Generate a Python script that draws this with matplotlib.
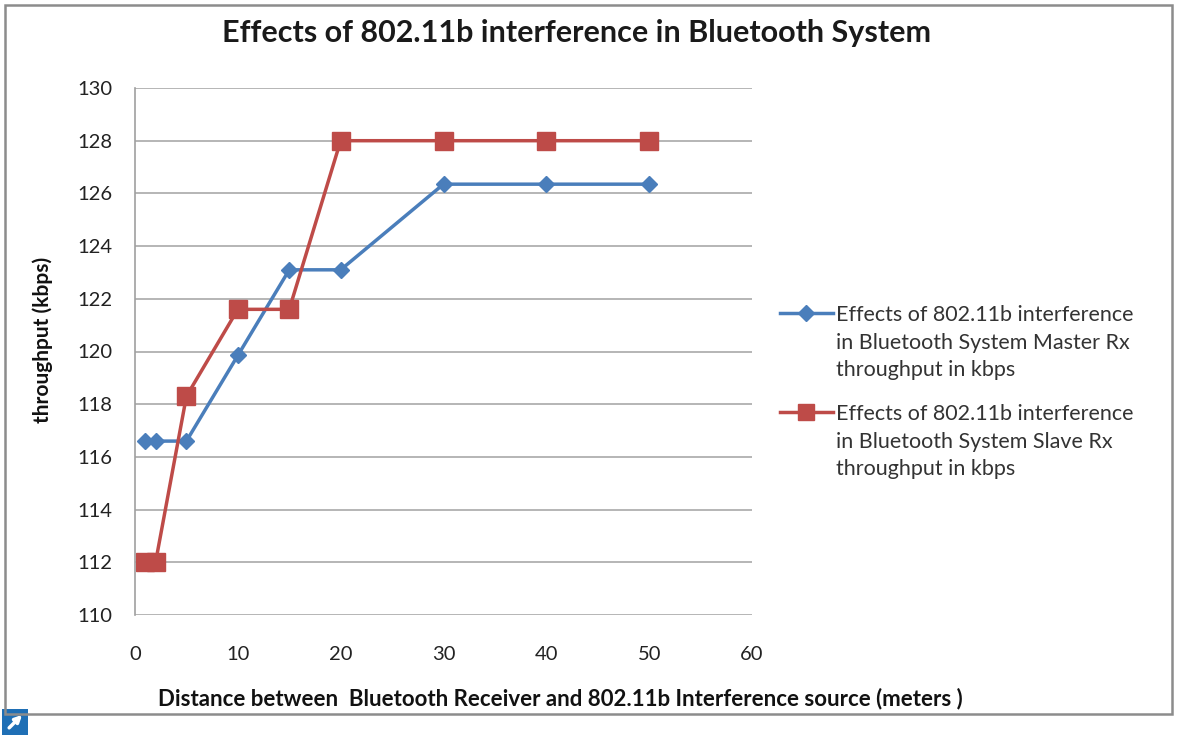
import matplotlib
matplotlib.use("Agg")
import matplotlib.pyplot as plt
from matplotlib.lines import Line2D
from matplotlib.patches import Rectangle

plt.rcParams["font.family"] = ["Lato", "DejaVu Sans"]

distance = [1, 2, 5, 10, 15, 20, 30, 40, 50]
master_rx = [116.6, 116.6, 116.6, 119.85, 123.1, 123.1, 126.35, 126.35, 126.35]
slave_rx = [112.0, 112.0, 118.3, 121.6, 121.6, 128.0, 128.0, 128.0, 128.0]

master_label = "Effects of 802.11b interference\nin Bluetooth System Master Rx\nthroughput in kbps"
slave_label = "Effects of 802.11b interference\nin Bluetooth System Slave Rx\nthroughput in kbps"
x_ticks = [0, 10, 20, 30, 40, 50, 60]
y_ticks = [110, 112, 114, 116, 118, 120, 122, 124, 126, 128, 130]

blue = "#4a7ebb"
red = "#be4b48"
W, H = 1177, 735


def fx(px):
    return px / W


def fy(py):
    return 1 - py / H


fig = plt.figure(figsize=(11.77, 7.35), dpi=100)
fig.patch.set_facecolor("white")

# outer chart border
fig.patches.append(Rectangle((fx(5), fy(714)), 1167 / W, 709 / H,
                             transform=fig.transFigure, fill=False,
                             edgecolor="#8c8c8c", linewidth=1.8))

ax = fig.add_axes([fx(135), fy(615), 617 / W, 527 / H])
ax.plot(distance, master_rx, color=blue, linewidth=2.5, marker="D",
        markersize=8, markerfacecolor=blue, markeredgecolor=blue)
ax.plot(distance, slave_rx, color=red, linewidth=2.5, marker="s",
        markersize=13, markerfacecolor=red, markeredgecolor=red)

ax.set_xlim(0, 60)
ax.set_ylim(110, 130)
ax.set_xticks(x_ticks)
ax.set_yticks(y_ticks)
ax.tick_params(axis="y", length=0, labelsize=14.5, colors="#222222", pad=16)
ax.tick_params(axis="x", length=0, labelsize=14.5, colors="#222222", pad=22)
ax.yaxis.grid(True, color="#b5b5b5", linewidth=1.4)
ax.set_axisbelow(True)
for side in ["top", "right", "bottom"]:
    ax.spines[side].set_visible(False)
ax.spines["left"].set_color("#a0a0a0")
ax.spines["left"].set_linewidth(1.2)

# axis titles sit where the original chart put them, not centred on the axes
fig.text(fx(43), fy(340), "throughput (kbps)", rotation=90, ha="center", va="center",
         fontsize=15, fontweight="bold", color="#111111")
fig.text(fx(560), fy(699), "Distance between  Bluetooth Receiver and 802.11b Interference source (meters )",
         ha="center", va="center", fontsize=16, fontweight="bold", color="#111111")

fig.text(fx(577), fy(33), "Effects of 802.11b interference in Bluetooth System",
         ha="center", va="center", fontsize=22, fontweight="bold", color="#1a1a1a")

# legend drawn by hand so the key sits on the first text line
legend_rows = [
    (master_label, blue, "D", 8, 313),
    (slave_label, red, "s", 12, 412),
]
for label, color, marker, size, row_y in legend_rows:
    fig.add_artist(Line2D([fx(780), fx(833)], [fy(row_y), fy(row_y)],
                          transform=fig.transFigure, color=color, linewidth=2.5))
    fig.add_artist(Line2D([fx(806)], [fy(row_y)], transform=fig.transFigure,
                          color=color, marker=marker, markersize=size, linestyle="none"))
    fig.text(fx(836), fy(row_y - 8), label, ha="left", va="top", fontsize=15.5,
             color="#333333", linespacing=1.47)

# small link icon at bottom left
icon = fig.add_axes([fx(2), fy(735), 26 / W, 26 / H])
icon.set_facecolor("#1f6fb5")
icon.set_xticks([])
icon.set_yticks([])
for s in icon.spines.values():
    s.set_visible(False)
icon.annotate("", xy=(0.85, 0.85), xytext=(0.2, 0.2), xycoords="axes fraction",
              arrowprops=dict(arrowstyle="-|>", color="white", lw=2.5))

fig.savefig("out.png", dpi=100)
